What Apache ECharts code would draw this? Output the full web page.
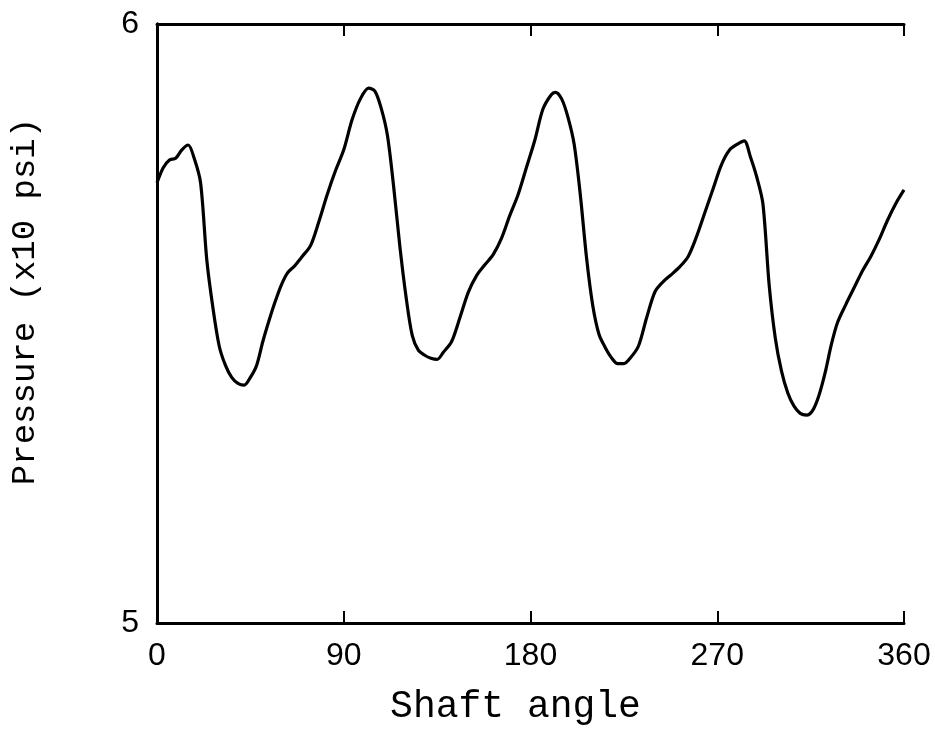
<!DOCTYPE html>
<html>
<head>
<meta charset="utf-8">
<script src="https://cdn.jsdelivr.net/npm/echarts@6/dist/echarts.min.js"></script>
<style>
  html, body { margin: 0; padding: 0; background: #fff; }
  #chart { width: 935px; height: 731px; }
</style>
</head>
<body>
<div id="chart"></div>
<script>
const angles = [0, 3, 6, 9, 12, 15, 18, 21, 24, 27, 30, 33, 36, 39, 42, 45, 48, 51, 54, 57, 60, 63, 66, 70, 74, 78, 82, 86, 90,
  94, 98, 102, 105, 108, 111, 114, 117, 120, 123, 126, 129, 132, 135, 138, 142, 146, 150, 154, 158, 162, 166, 170, 174, 178,
  182, 186, 190, 192, 195, 198, 201, 204, 207, 210, 213, 216, 219, 222, 225, 228, 232, 236, 240, 244, 248, 252, 256, 260,
  264, 268, 272, 276, 280, 283, 286, 289, 292, 295, 298, 301, 304, 307, 310, 313, 316, 319, 322, 325, 328, 332, 336, 340,
  344, 348, 352, 356, 360]
const pressure = [5.735, 5.760, 5.773, 5.776, 5.790, 5.798, 5.775, 5.735, 5.606, 5.525, 5.462, 5.430, 5.410, 5.400, 5.397,
  5.410, 5.430, 5.470, 5.505, 5.537, 5.565, 5.585, 5.595, 5.612, 5.630, 5.670, 5.715, 5.755, 5.790,
  5.840, 5.875, 5.893, 5.888, 5.860, 5.815, 5.730, 5.630, 5.545, 5.480, 5.455, 5.447, 5.442, 5.440, 5.452, 5.470, 5.510,
  5.552, 5.580, 5.598, 5.615, 5.642, 5.680, 5.715, 5.760,
  5.805, 5.858, 5.882, 5.886, 5.875, 5.845, 5.800, 5.715, 5.610, 5.530, 5.482, 5.460, 5.443, 5.433, 5.433, 5.442, 5.462,
  5.510, 5.553, 5.570, 5.582, 5.595, 5.612, 5.645,
  5.685, 5.725, 5.765, 5.790, 5.800, 5.805, 5.778, 5.745, 5.700, 5.565, 5.475, 5.420, 5.384, 5.362, 5.350, 5.347, 5.355,
  5.380, 5.418, 5.465, 5.502, 5.532, 5.560, 5.588,
  5.612, 5.640, 5.672, 5.700, 5.723]
const xTicks = [0, 90, 180, 270, 360]
const yTicks = [5, 6]

const chart = echarts.init(document.getElementById('chart'))

const tickFont = { color: '#000', fontSize: 32, fontFamily: 'Liberation Sans, Arial, sans-serif' }
const titleFont = 'Courier New, Liberation Mono, monospace'
const frameLine = { show: true, lineStyle: { color: '#000', width: 3 } }

const option = {
  backgroundColor: '#fff',
  animation: false,
  grid: { left: 153, right: 31, top: 24, bottom: 108 },
  xAxis: [
    {
      type: 'value',
      min: xTicks[0],
      max: xTicks[xTicks.length - 1],
      interval: 90,
      position: 'bottom',
      axisLine: frameLine,
      axisTick: { show: true, inside: true, length: 12, lineStyle: { color: '#000', width: 2 } },
      axisLabel: Object.assign({ margin: 17 }, tickFont),
      splitLine: { show: false },
      name: 'Shaft angle',
      nameLocation: 'middle',
      nameGap: 65,
      nameTextStyle: { color: '#000', fontSize: 38, fontFamily: titleFont, padding: [0, 30, 0, 0] }
    },
    {
      type: 'value',
      min: xTicks[0],
      max: xTicks[xTicks.length - 1],
      interval: 90,
      position: 'top',
      axisLine: frameLine,
      axisTick: { show: true, inside: true, length: 12, lineStyle: { color: '#000', width: 2 } },
      axisLabel: { show: false },
      splitLine: { show: false }
    }
  ],
  yAxis: [
    {
      type: 'value',
      min: yTicks[0],
      max: yTicks[1],
      interval: 1,
      position: 'left',
      axisLine: frameLine,
      axisTick: { show: false },
      axisLabel: Object.assign({ margin: 18 }, tickFont),
      splitLine: { show: false },
      name: 'Pressure (x10 psi)',
      nameLocation: 'middle',
      nameGap: 115,
      nameTextStyle: { color: '#000', fontSize: 34, fontFamily: titleFont, padding: [0, 0, 0, 44] }
    },
    {
      type: 'value',
      min: yTicks[0],
      max: yTicks[1],
      interval: 1,
      position: 'right',
      axisLine: frameLine,
      axisTick: { show: false },
      axisLabel: { show: false },
      splitLine: { show: false }
    }
  ],
  series: [
    {
      type: 'line',
      data: angles.map((a, i) => [a, pressure[i]]),
      showSymbol: false,
      smooth: 0.3,
      lineStyle: { color: '#000', width: 3.2 }
    }
  ]
}

chart.setOption(option)
</script>
</body>
</html>
